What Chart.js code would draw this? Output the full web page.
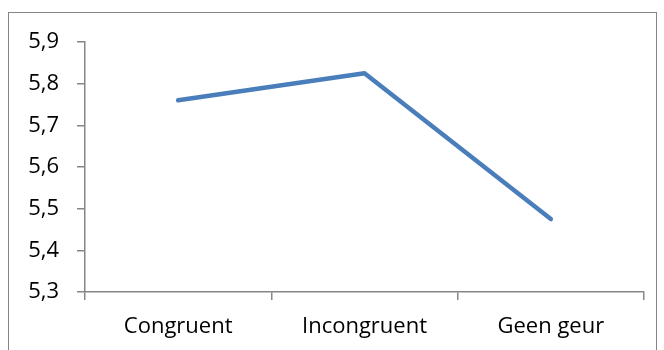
<!DOCTYPE html>
<html>
<head>
<meta charset="utf-8">
<style>
  html, body { margin: 0; padding: 0; background: #ffffff; }
  #wrap { position: relative; width: 664px; height: 350px; }
  canvas { display: block; }
</style>
<script src="https://cdn.jsdelivr.net/npm/chart.js@4/dist/chart.umd.min.js"></script>
</head>
<body>
<div id="wrap"><canvas id="chart" width="664" height="350"></canvas></div>
<script>
// Mean ratings per odour condition
const categories = ['Congruent', 'Incongruent', 'Geen geur'];
const meanScores = [5.76, 5.825, 5.475];
const yTicks = [5.3, 5.4, 5.5, 5.6, 5.7, 5.8, 5.9];

const axisGray = '#868686';
const lineBlue = '#4A7EBB';
const fontFamily = '"Open Sans", "Liberation Sans", sans-serif';

// Thin gray frame drawn around the whole chart
const framePlugin = {
  id: 'frame',
  beforeDraw(chart) {
    const ctx = chart.ctx;
    ctx.save();
    ctx.strokeStyle = axisGray;
    ctx.lineWidth = 1;
    ctx.strokeRect(8.5, 12.5, 648, 360);
    ctx.restore();
  }
};

new Chart(document.getElementById('chart'), {
  type: 'line',
  data: {
    labels: categories,
    datasets: [{
      data: meanScores,
      borderColor: lineBlue,
      borderWidth: 4.5,
      borderCapStyle: 'round',
      borderJoinStyle: 'round',
      pointRadius: 0,
      pointHoverRadius: 0,
      tension: 0,
      fill: false
    }]
  },
  options: {
    responsive: false,
    animation: false,
    events: [],
    layout: { padding: { left: 0, right: 20, top: 42, bottom: 0 } },
    plugins: { legend: { display: false }, tooltip: { enabled: false } },
    scales: {
      x: {
        type: 'category',
        offset: true,
        grid: {
          offset: true,
          drawOnChartArea: false,
          drawTicks: true,
          tickLength: 8,
          tickColor: axisGray,
          lineWidth: 1.5
        },
        border: { display: true, color: axisGray, width: 1.5 },
        ticks: {
          color: '#000000',
          font: { family: fontFamily, size: 22 },
          padding: 14,
          maxRotation: 0
        },
        afterFit(scale) { scale.height = 58; }
      },
      y: {
        min: 5.3,
        max: 5.9,
        afterBuildTicks(scale) { scale.ticks = yTicks.map(v => ({ value: v })); },
        grid: {
          drawOnChartArea: false,
          drawTicks: true,
          tickLength: 8,
          tickColor: axisGray,
          lineWidth: 1.5
        },
        border: { display: true, color: axisGray, width: 1.5 },
        ticks: {
          color: '#000000',
          font: { family: fontFamily, size: 22 },
          padding: 18,
          callback: v => v.toFixed(1).replace('.', ',')
        },
        afterFit(scale) { scale.width = 85; }
      }
    }
  },
  plugins: [framePlugin]
});
</script>
</body>
</html>
